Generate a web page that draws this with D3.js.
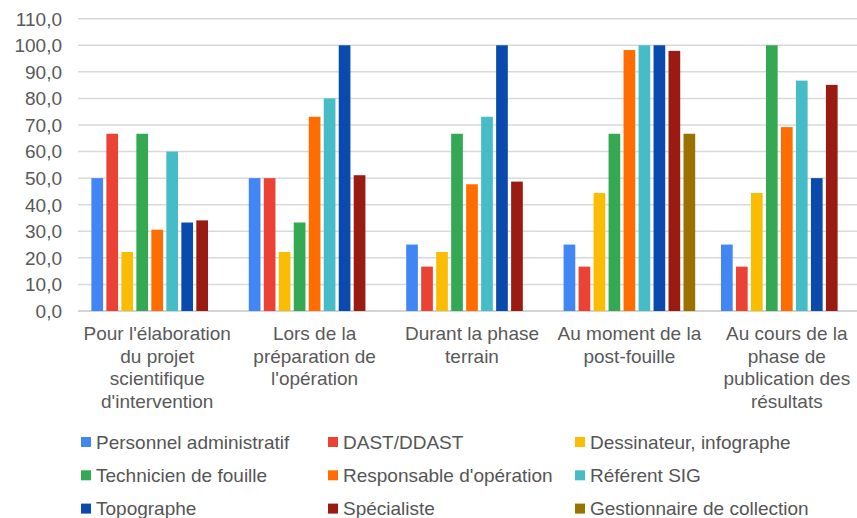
<!DOCTYPE html>
<html>
<head>
<meta charset="utf-8">
<script src="https://cdn.jsdelivr.net/npm/d3@7"></script>
<style>
  body { margin: 0; background: #fff; }
  svg { display: block; font-family: "Liberation Sans", Arial, sans-serif; }
</style>
</head>
<body>
<div id="chart"></div>
<script>
// categories (x axis), wrapped the way the original shows them
var categories = ["c1", "c2", "c3", "c4", "c5"];
var categoryLines = [
    ["Pour l'élaboration", "du projet", "scientifique", "d'intervention"],
    ["Lors de la", "préparation de", "l'opération"],
    ["Durant la phase", "terrain"],
    ["Au moment de la", "post-fouille"],
    ["Au cours de la", "phase de", "publication des", "résultats"]
];

var seriesNames = ["Personnel administratif", "DAST/DDAST", "Dessinateur, infographe",
    "Technicien de fouille", "Responsable d'opération", "Référent SIG",
    "Topographe", "Spécialiste", "Gestionnaire de collection"];
var seriesColors = ["#4285f4", "#ea4335", "#fbbc04", "#34a853", "#ff6d01", "#46bdc6",
    "#0b4aad", "#9a1b12", "#9a7200"];

// one value per category, null = no bar
var personnelAdmin = [50, 50, 25, 25, 25];
var dast = [66.7, 50, 16.7, 16.7, 16.7];
var dessinateur = [22.2, 22.2, 22.2, 44.4, 44.4];
var technicien = [66.7, 33.3, 66.7, 66.7, 100];
var responsable = [30.6, 73.1, 47.7, 98.2, 69.2];
var referentSig = [60, 80, 73.1, 100, 86.7];
var topographe = [33.3, 100, 100, 100, 50];
var specialiste = [34.1, 51.1, 48.7, 97.9, 85.1];
var gestionnaire = [null, null, null, 66.7, null];

var yTicks = [0, 10, 20, 30, 40, 50, 60, 70, 80, 90, 100, 110];

var seriesValues = [personnelAdmin, dast, dessinateur, technicien, responsable,
    referentSig, topographe, specialiste, gestionnaire];

function init() {
    var w = 857, h = 518;

    var svg = d3.select("#chart").append("svg")
        .attr("width", w)
        .attr("height", h);

    // the plot runs a bit past the right edge, like the cropped original
    var x0 = d3.scaleBand()
        .domain(categories)
        .range([78.5, 865.5]);

    var x1 = d3.scaleBand()
        .domain(seriesNames)
        .range([0, x0.bandwidth()])
        .paddingInner(0.22)
        .paddingOuter(0.86);

    var y = d3.scaleLinear()
        .domain([0, 110])
        .range([311, 18.7]);

    var fmt = function (v) { return d3.format(".1f")(v).replace(".", ","); };

    // gridlines
    svg.append("g")
        .selectAll("line")
        .data(yTicks)
        .enter()
        .append("line")
        .attr("x1", 78)
        .attr("x2", w)
        .attr("y1", function (d) { return y(d); })
        .attr("y2", function (d) { return y(d); })
        .attr("stroke", function (d) { return d === 0 ? "#c6c6c6" : "#d9d9d9"; })
        .attr("stroke-width", 1.5);

    // y labels
    svg.append("g")
        .selectAll("text")
        .data(yTicks)
        .enter()
        .append("text")
        .attr("x", 62)
        .attr("y", function (d) { return y(d); })
        .attr("dy", "0.36em")
        .attr("text-anchor", "end")
        .attr("font-size", 19)
        .attr("fill", "#595959")
        .text(fmt);

    // bars
    var groups = svg.append("g")
        .selectAll("g")
        .data(categories)
        .enter()
        .append("g")
        .attr("transform", function (d) { return "translate(" + x0(d) + ",0)"; });

    groups.selectAll("rect")
        .data(function (d, i) {
            return seriesNames.map(function (s, j) {
                return { s: s, j: j, v: seriesValues[j][i] };
            }).filter(function (e) { return e.v != null; });
        })
        .enter()
        .append("rect")
        .attr("x", function (d) { return x1(d.s); })
        .attr("width", x1.bandwidth())
        .attr("y", function (d) { return y(d.v); })
        .attr("height", function (d) { return y(0) - y(d.v); })
        .attr("fill", function (d) { return seriesColors[d.j]; });

    // category labels
    var labels = svg.append("g")
        .selectAll("text")
        .data(categories)
        .enter()
        .append("text")
        .attr("text-anchor", "middle")
        .attr("font-size", 19)
        .attr("fill", "#595959")
        .attr("transform", function (d) {
            return "translate(" + (x0(d) + x0.bandwidth() / 2) + ",340)";
        });

    labels.selectAll("tspan")
        .data(function (d, i) { return categoryLines[i]; })
        .enter()
        .append("tspan")
        .attr("x", 0)
        .attr("y", function (d, i) { return i * 22.6; })
        .text(function (d) { return d; });

    // legend, 3 columns
    var legend = svg.append("g")
        .selectAll("g")
        .data(seriesNames)
        .enter()
        .append("g")
        .attr("transform", function (d, i) {
            return "translate(" + (81 + (i % 3) * 247) + "," + (442 + Math.floor(i / 3) * 33.3) + ")";
        });

    legend.append("rect")
        .attr("x", 0)
        .attr("y", -5)
        .attr("width", 10)
        .attr("height", 10)
        .attr("fill", function (d, i) { return seriesColors[i]; });

    legend.append("text")
        .attr("x", 15)
        .attr("dy", "0.36em")
        .attr("font-size", 19)
        .attr("fill", "#555")
        .text(function (d) { return d; });
}
window.onload = init;
</script>
</body>
</html>
